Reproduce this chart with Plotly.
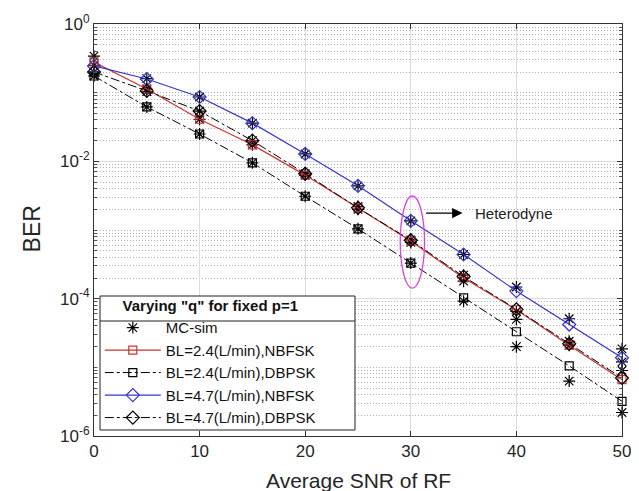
import plotly.graph_objects as go

snr = [0, 5, 10, 15, 20, 25, 30, 35, 40, 45, 50]
bl24_nbfsk = [0.28, 0.113, 0.041, 0.0174, 0.0063, 0.0021, 0.00069, 0.00020, 6.9e-5, 2.1e-5, 6.6e-6]
bl24_dbpsk = [0.175, 0.062, 0.025, 0.0095, 0.0031, 0.00104, 0.00033, 0.000103, 3.3e-5, 1.05e-5, 3.2e-6]
bl47_nbfsk = [0.245, 0.158, 0.0865, 0.036, 0.0128, 0.0044, 0.00136, 0.00044, 0.000129, 4.2e-5, 1.38e-5]
bl47_dbpsk = [0.20, 0.106, 0.054, 0.020, 0.0066, 0.0021, 0.00071, 0.00021, 7.0e-5, 2.2e-5, 7.0e-6]

sim_x = [0, 0, 0, 0,
         5, 5, 5, 5,
         10, 10, 10, 10,
         15, 15, 15, 15,
         20, 20, 20, 20,
         25, 25, 25, 25,
         30, 30, 30, 30,
         35, 35, 35, 35,
         40, 40, 40, 40,
         45, 45, 45, 45,
         50, 50, 50, 50]
sim_y = [0.34, 0.25, 0.20, 0.175,
         0.16, 0.113, 0.104, 0.062,
         0.0865, 0.054, 0.041, 0.025,
         0.036, 0.020, 0.0174, 0.0095,
         0.0128, 0.0066, 0.0063, 0.0031,
         0.0044, 0.0022, 0.0020, 0.00104,
         0.00136, 0.00072, 0.00066, 0.00033,
         0.00044, 0.00022, 0.00018, 9.2e-5,
         0.000148, 6.5e-5, 5.0e-5, 2.0e-5,
         5.1e-5, 2.4e-5, 2.1e-5, 6.3e-6,
         1.86e-5, 1.2e-5, 9.0e-6, 2.2e-6]

y_tickvals = [1, 1e-2, 1e-4, 1e-6]
y_ticktext = ["10<sup>0</sup>", "10<sup>-2</sup>", "10<sup>-4</sup>", "10<sup>-6</sup>"]
x_tickvals = [0, 10, 20, 30, 40, 50]

RED = "#cc3333"
BLUE = "#3535c8"
FONT = "Liberation Sans, Arial, sans-serif"

fig = go.Figure()
fig.add_trace(go.Scatter(x=sim_x, y=sim_y, mode="markers", name="MC-sim",
                         marker=dict(symbol="asterisk-open", size=10, color="black",
                                     line=dict(color="black", width=1.2)),
                         cliponaxis=False))
fig.add_trace(go.Scatter(x=snr, y=bl24_nbfsk, mode="lines+markers", name="BL=2.4(L/min),NBFSK",
                         line=dict(color=RED, width=1.2),
                         marker=dict(symbol="square-open", size=8, color=RED, line=dict(width=1.2)),
                         cliponaxis=False))
fig.add_trace(go.Scatter(x=snr, y=bl24_dbpsk, mode="lines+markers", name="BL=2.4(L/min),DBPSK",
                         line=dict(color="black", width=1, dash="dashdot"),
                         marker=dict(symbol="square-open", size=8, color="black", line=dict(width=1.2)),
                         cliponaxis=False))
fig.add_trace(go.Scatter(x=snr, y=bl47_nbfsk, mode="lines+markers", name="BL=4.7(L/min),NBFSK",
                         line=dict(color=BLUE, width=1.2),
                         marker=dict(symbol="diamond-open", size=10, color=BLUE, line=dict(width=1.2)),
                         cliponaxis=False))
fig.add_trace(go.Scatter(x=snr, y=bl47_dbpsk, mode="lines+markers", name="BL=4.7(L/min),DBPSK",
                         line=dict(color="black", width=1, dash="dashdot"),
                         marker=dict(symbol="diamond-open", size=10, color="black", line=dict(width=1.2)),
                         cliponaxis=False))

# Heterodyne ellipse
fig.add_shape(type="circle", xref="x", yref="paper", x0=29.0, x1=31.3, y0=0.359, y1=0.5825,
              line=dict(color="#e040e0", width=1.3))
# arrow
fig.add_annotation(x=34.9, y=0.541, xref="x", yref="paper", ax=-38, ay=0, text="",
                   showarrow=True, arrowhead=2, arrowsize=1.6, arrowwidth=1.3, arrowcolor="black")
fig.add_annotation(x=35.9, y=0.541, xref="x", yref="paper", text="Heterodyne", showarrow=False,
                   xanchor="left", yanchor="middle", font=dict(family=FONT, size=15, color="#222"))

# legend box (drawn behind the legend entries) and separator under legend title
fig.add_shape(type="rect", xref="paper", yref="paper", x0=0.0114, x1=0.4943, y0=0.0146, y1=0.3398,
              fillcolor="white", line=dict(color="#222", width=1), layer="above")
fig.add_shape(type="line", xref="paper", yref="paper", x0=0.0114, x1=0.4943, y0=0.2791, y1=0.2791,
              line=dict(color="#222", width=1), layer="above")

# axis titles
fig.add_annotation(x=0.5, y=-0.107, xref="paper", yref="paper", text="Average SNR of RF",
                   showarrow=False, xanchor="center", yanchor="middle",
                   font=dict(family=FONT, size=21, color="#262626"))
fig.add_annotation(x=-0.117, y=0.502, xref="paper", yref="paper", text="BER", textangle=-90,
                   showarrow=False, xanchor="center", yanchor="middle",
                   font=dict(family=FONT, size=23, color="#262626"))

fig.update_layout(
    width=639, height=491,
    margin=dict(l=86, r=25, t=16, b=63, autoexpand=False),
    paper_bgcolor="white", plot_bgcolor="white",
    font=dict(family=FONT, color="#262626"),
    showlegend=True,
    legend=dict(x=0.011, y=0.35, xanchor="left", yanchor="top",
                bgcolor="rgba(0,0,0,0)", borderwidth=0,
                font=dict(family=FONT, size=15, color="#111"),
                title=dict(text="<b>Varying \"q\" for fixed p=1</b>", side="top center",
                           font=dict(family=FONT, size=15, color="#111")),
                tracegroupgap=0, itemwidth=56),
    xaxis=dict(range=[0, 50], tickvals=x_tickvals, showgrid=True, gridcolor="#dcdcdc", gridwidth=1,
               showline=True, linecolor="#333", linewidth=1, mirror="ticks",
               ticks="inside", ticklen=5, tickcolor="#333", zeroline=False, automargin=False,
               tickfont=dict(family=FONT, size=17, color="#262626")),
    yaxis=dict(type="log", range=[-6, 0], tickvals=y_tickvals, ticktext=y_ticktext,
               showgrid=True, gridcolor="#dcdcdc", gridwidth=1,
               showline=True, linecolor="#333", linewidth=1, mirror="ticks",
               ticks="inside", ticklen=5, tickcolor="#333", zeroline=False, automargin=False,
               tickfont=dict(family=FONT, size=17, color="#262626"),
               minor=dict(dtick="D1", ticks="inside", ticklen=3, tickcolor="#555",
                          showgrid=True, gridcolor="#b0b0b0", griddash="1px,2px", gridwidth=1)),
)

fig.write_html("out.html")
